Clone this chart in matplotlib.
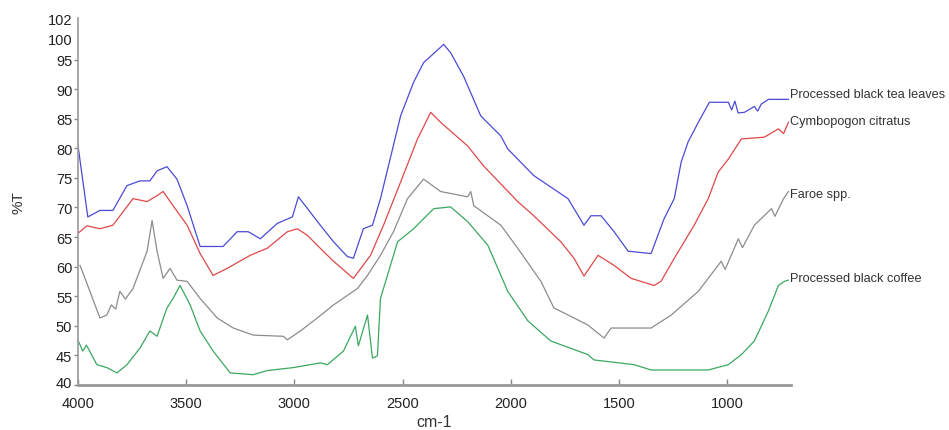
import matplotlib
matplotlib.use("Agg")
import matplotlib.pyplot as plt
from matplotlib.transforms import ScaledTranslation

plt.rcParams['font.family'] = ['Liberation Sans Narrow', 'Liberation Sans', 'DejaVu Sans']

# Processed black tea leaves (blue)
tea_x = [4000, 3954, 3898, 3838, 3773, 3713, 3667, 3634, 3588, 3542, 3495, 3435, 3329, 3264, 3213, 3157,
         3079, 3009, 2981, 2880, 2819, 2755, 2727, 2681, 2639, 2602, 2509, 2449, 2403, 2310, 2278, 2218,
         2139, 2046, 2014, 1894, 1736, 1662, 1630, 1583, 1523, 1458, 1352, 1292, 1245, 1213, 1181, 1134,
         1083, 995, 980, 965, 950, 921, 875, 860, 843, 810, 760, 718]
tea_y = [80.7, 68.4, 69.5, 69.5, 73.7, 74.5, 74.5, 76.2, 76.9, 74.8, 70.3, 63.4, 63.4, 65.9, 65.9, 64.7,
         67.3, 68.4, 71.8, 67.0, 64.2, 61.7, 61.4, 66.4, 67.0, 71.5, 85.5, 91.2, 94.5, 97.6, 96.2, 92.2,
         85.5, 82.1, 79.9, 75.4, 71.5, 67.0, 68.6, 68.6, 65.9, 62.6, 62.2, 68.1, 71.5, 77.7, 81.1, 84.4,
         87.8, 87.8, 86.5, 88.0, 86.0, 86.1, 87.1, 86.3, 87.5, 88.3, 88.3, 88.3]

# Cymbopogon citratus (red)
cym_x = [4000, 3958, 3898, 3838, 3745, 3680, 3634, 3606, 3560, 3495, 3435, 3375, 3310, 3204, 3125, 3032,
         2986, 2940, 2880, 2819, 2727, 2648, 2588, 2509, 2431, 2370, 2324, 2199, 2125, 1968, 1894, 1769,
         1708, 1662, 1597, 1523, 1444, 1338, 1306, 1245, 1153, 1088, 1042, 995, 935, 829, 764, 740, 718]
cym_y = [65.6, 66.9, 66.4, 67.0, 71.5, 71.0, 72.0, 72.7, 70.3, 67.0, 62.2, 58.5, 59.7, 61.9, 63.1, 65.9,
         66.4, 65.3, 63.1, 60.9, 58.0, 61.9, 67.0, 74.3, 81.6, 86.1, 84.4, 80.4, 77.0, 71.0, 68.6, 64.2,
         61.4, 58.4, 61.9, 60.2, 58.0, 56.8, 57.5, 61.4, 67.0, 71.5, 76.0, 78.2, 81.6, 81.9, 83.3, 82.5, 84.4]

# Faroe spp. (gray)
far_x = [3990, 3977, 3944, 3898, 3866, 3845, 3825, 3806, 3780, 3745, 3680, 3657, 3634, 3606, 3574, 3542,
         3495, 3435, 3356, 3282, 3190, 3051, 3032, 2972, 2894, 2819, 2708, 2662, 2602, 2542, 2477, 2403,
         2324, 2199, 2185, 2171, 2046, 1968, 1861, 1801, 1708, 1644, 1569, 1537, 1491, 1352, 1259, 1134,
         1028, 1010, 949, 930, 875, 796, 780, 740, 718]
far_y = [60.2, 59.0, 55.8, 51.3, 51.8, 53.5, 52.8, 55.8, 54.5, 56.3, 62.6, 67.8, 62.6, 58.0, 59.7, 57.7,
         57.5, 54.6, 51.3, 49.6, 48.4, 48.2, 47.6, 49.1, 51.3, 53.5, 56.3, 58.5, 61.9, 65.9, 71.5, 74.8,
         72.7, 71.8, 72.7, 70.3, 67.0, 63.1, 57.5, 53.0, 51.3, 50.1, 47.9, 49.6, 49.6, 49.6, 51.8, 55.8,
         60.9, 59.5, 64.7, 63.2, 67.0, 69.8, 68.5, 71.5, 72.7]

# Processed black coffee (green)
cof_x = [4000, 3977, 3960, 3912, 3866, 3819, 3773, 3713, 3667, 3634, 3588, 3560, 3528, 3481, 3435, 3375,
         3296, 3190, 3125, 3005, 2880, 2847, 2773, 2718, 2704, 2662, 2639, 2616, 2602, 2523, 2449, 2356,
         2278, 2199, 2106, 2014, 1921, 1815, 1644, 1616, 1431, 1352, 1088, 995, 935, 875, 810, 764, 736, 718]
cof_y = [47.6, 45.7, 46.7, 43.4, 42.9, 42.0, 43.4, 46.2, 49.1, 48.2, 53.0, 54.6, 56.8, 53.5, 49.1, 45.7,
         42.0, 41.7, 42.4, 42.9, 43.7, 43.4, 45.7, 49.9, 46.6, 51.8, 44.5, 44.9, 54.6, 64.2, 66.4, 69.8,
         70.1, 67.6, 63.6, 55.8, 50.8, 47.4, 45.1, 44.2, 43.4, 42.5, 42.5, 43.4, 45.1, 47.4, 52.5, 56.8, 57.5, 57.7]

series = [
    (tea_x, tea_y, '#4a4ad6', 'Processed black tea leaves', 89.2),
    (cym_x, cym_y, '#e04848', 'Cymbopogon citratus', 84.6),
    (far_x, far_y, '#8c8c8c', 'Faroe spp.', 72.3),
    (cof_x, cof_y, '#3aa860', 'Processed black coffee', 58.0),
]

yticks = [40, 45, 50, 55, 60, 65, 70, 75, 80, 85, 90, 95, 100, 102]
xticks = [4000, 3500, 3000, 2500, 2000, 1500, 1000]

fig = plt.figure(figsize=(9.49, 4.31), dpi=100)
ax = fig.add_axes([0.082, 0.105, 0.751, 0.85])

for x, y, c, lab, ly in series:
    ax.plot(x, y, color=c, lw=0.9)
    ax.text(710, ly, lab, fontsize=9.2, color='#333333', va='center', ha='left',
            clip_on=False, family=['Liberation Sans', 'DejaVu Sans'])

ax.set_xlim(4000, 708)
ax.set_ylim(40, 102)
ax.set_xticks(xticks)
ax.set_yticks(yticks)
ax.set_xticklabels([str(v) for v in xticks])
ax.set_yticklabels([str(v) for v in yticks])

for s in ['top', 'right']:
    ax.spines[s].set_visible(False)
ax.spines['left'].set_color('#999999')
ax.spines['left'].set_linewidth(1.2)
ax.spines['bottom'].set_color('#999999')
ax.spines['bottom'].set_linewidth(2.0)

ax.tick_params(axis='y', direction='out', length=3, width=1, color='#888888', labelsize=10.5, pad=1,
               labelcolor='#222222')
ax.tick_params(axis='x', direction='in', length=4, width=1, color='#888888', labelsize=10.5, pad=8,
               labelcolor='#222222')
yt = ax.yaxis.get_major_ticks()
for t in yt[-2:]:
    t.tick1line.set_markersize(0)
# the "100" label sits a little lower in the reference
lab100 = yt[-2].label1
lab100.set_transform(lab100.get_transform() + ScaledTranslation(0, -6 / 72, fig.dpi_scale_trans))
lab40 = yt[0].label1
lab40.set_transform(lab40.get_transform() + ScaledTranslation(0, 2 / 72, fig.dpi_scale_trans))

ax.set_ylabel('%T', fontsize=11, color='#333333', labelpad=16)
ax.set_xlabel('cm-1', fontsize=11.5, color='#333333', labelpad=3)

fig.savefig('out.png', dpi=100)
